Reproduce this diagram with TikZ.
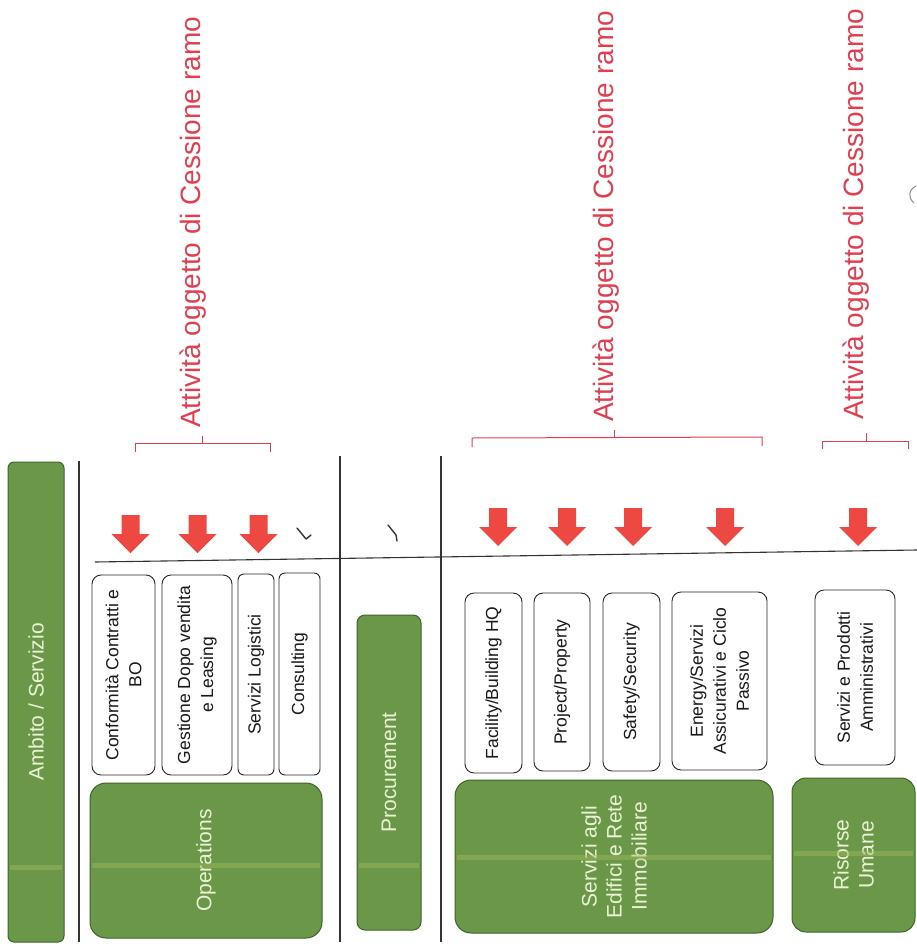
\documentclass[tikz,border=0pt]{standalone}
\usepackage{fontspec}
\setmainfont{Liberation Sans}
\definecolor{gfill}{RGB}{106,152,72}
\definecolor{gdraw}{RGB}{62,100,40}
\definecolor{gtext}{RGB}{236,242,214}
\definecolor{arrred}{RGB}{238,72,66}
\definecolor{lblred}{RGB}{225,62,80}
\definecolor{stripe}{RGB}{160,185,95}
\newcommand{\dnarrow}[2]{%
  \fill[arrred] (#1-9,#2) -- (#1+9,#2) -- (#1+9,#2+19) -- (#1+19,#2+19) -- (#1,#2+38) -- (#1-19,#2+19) -- (#1-9,#2+19) -- cycle;}
\begin{document}
\begin{tikzpicture}[x=1pt,y=-1pt,
  gbox/.style={draw=gdraw, line width=1pt, fill=gfill, text=gtext, rounded corners=12pt, rotate=90, align=center, inner sep=0pt, font=\fontsize{21}{25}\selectfont},
  wbox/.style={draw=black!85, line width=0.9pt, fill=white, text=black!90, rounded corners=9pt, rotate=90, align=center, inner sep=0pt, font=\fontsize{17.5}{23}\selectfont},
  rule/.style={draw=black!80, line width=1.1pt},
  brk/.style={draw=lblred, line width=1pt},
  stripeline/.style={draw=stripe, opacity=0.45, line width=5pt},
  tick/.style={draw=black!80, line width=1.4pt, line cap=round, line join=round},
  lbl/.style={text=lblred, rotate=90, anchor=base west, inner sep=0pt, font=\fontsize{28}{30}\selectfont}]
\useasboundingbox (0,0) rectangle (917,947);
% green boxes
\node[gbox, rounded corners=6pt, minimum width=480pt, minimum height=56pt] (amb) at (36,702) {Ambito / Servizio};
\node[gbox, rounded corners=16pt, minimum width=155pt, minimum height=232pt] (ops) at (206,860.5) {Operations};
\node[gbox, rounded corners=8pt, minimum width=315pt, minimum height=64pt] (proc) at (389,772.5) {Procurement};
\node[gbox, rounded corners=16pt, minimum width=153pt, minimum height=318pt] (edif) at (614,856.5) {Servizi agli\\Edifici e Rete\\Immobiliare};
\node[gbox, rounded corners=14pt, minimum width=154pt, minimum height=123pt] (hr) at (853.5,855) {Risorse\\Umane};
% scan stripes
\draw[stripeline] (10,867) -- (62,867);
\draw[stripeline] (92,865) -- (320,865);
\draw[stripeline] (359,865) -- (419,865);
\draw[stripeline] (457,857) -- (771,857);
\draw[stripeline] (794,853) -- (913,853);
% white boxes
\node[wbox, minimum width=200pt, minimum height=63pt] (conf) at (123.5,675) {Conformità Contratti e\\BO};
\node[wbox, minimum width=200pt, minimum height=70pt] (gest) at (197,675) {Gestione Dopo vendita\\e Leasing};
\node[wbox, rounded corners=6pt, minimum width=201pt, minimum height=36pt] (logi) at (256,674.5) {Servizi Logistici};
\node[wbox, rounded corners=6pt, minimum width=202pt, minimum height=41pt] (cons) at (299.5,674) {Consulting};
\node[wbox, minimum width=180pt, minimum height=57pt] (fac) at (493.5,683) {Facility/Building HQ};
\node[wbox, minimum width=178pt, minimum height=56pt] (proj) at (562,682) {Project/Property};
\node[wbox, minimum width=178pt, minimum height=57pt] (safe) at (631.5,682) {Safety/Security};
\node[wbox, minimum width=178pt, minimum height=95pt] (ener) at (719.5,681) {Energy/Servizi\\Assicurativi e Ciclo\\Passivo};
\node[wbox, minimum width=175pt, minimum height=80pt] (amm) at (855,677.5) {Servizi e Prodotti\\Amministrativi};
% rules
\coordinate (v1t) at (79,461); \coordinate (v1b) at (79,942);
\coordinate (v2t) at (340,456); \coordinate (v2b) at (340,942);
\coordinate (v3t) at (441,456); \coordinate (v3b) at (441,942);
\coordinate (hl) at (95,562); \coordinate (hr2) at (917,550);
\draw[rule] (v1t) -- (v1b);
\draw[rule] (v2t) -- (v2b);
\draw[rule] (v3t) -- (v3b);
\draw[rule] (hl) -- (hr2);
% arrows
\dnarrow{130.5}{515}
\dnarrow{197.5}{515}
\dnarrow{258.5}{515}
\dnarrow{498}{508}
\dnarrow{567}{508}
\dnarrow{633}{508}
\dnarrow{725}{508}
\dnarrow{858}{508}
% ticks
\draw[tick] (297,528) -- (306,539) -- (311,535);
\draw[tick] (388,525) -- (396,535) -- (397,541);
% brackets
\draw[brk] (135,452) -- (135,443) -- (270,443) -- (270,452);
\draw[brk] (202,443) -- (202,436);
\draw[brk] (472,447) -- (472,438) -- (762,437) -- (762,446);
\draw[brk] (614,437.5) -- (614,430);
\draw[brk] (822,449) -- (822,441) -- (908,441) -- (908,449);
\draw[brk] (866,441) -- (866,433);
% labels
\node[lbl] (t1) at (200,428) {Attività oggetto di Cessione ramo};
\node[lbl] (t2) at (613,422) {Attività oggetto di Cessione ramo};
\node[lbl] (t3) at (863,420) {Attività oggetto di Cessione ramo};
% stray mark
\draw[black!45, line width=1pt] (916,186) .. controls (908,190) and (908,198) .. (914,203);
\end{tikzpicture}
\end{document}
